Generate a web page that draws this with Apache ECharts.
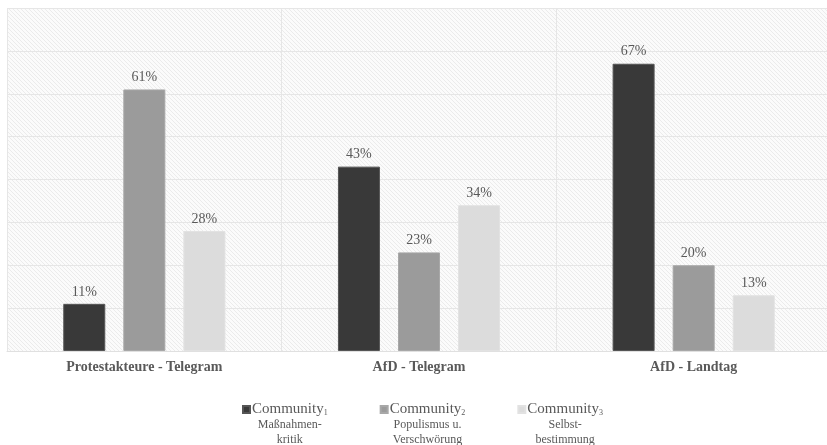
<!DOCTYPE html>
<html>
<head>
<meta charset="utf-8">
<script src="https://cdn.jsdelivr.net/npm/echarts@6/dist/echarts.min.js"></script>
<style>html,body{margin:0;padding:0;background:#fff}#c{width:827px;height:445px}</style>
</head>
<body>
<div id="c"></div>
<script>
const categories = ['Protestakteure - Telegram', 'AfD - Telegram', 'AfD - Landtag'];
const seriesNames = ['Community1', 'Community2', 'Community3'];
const seriesSub = ['1', '2', '3'];
const seriesDesc = [['Maßnahmen-', 'kritik'], ['Populismus u.', 'Verschwörung'], ['Selbst-', 'bestimmung']];
const community1 = [11, 43, 67];
const community2 = [61, 23, 20];
const community3 = [28, 34, 13];
const yTicks = [0, 10, 20, 30, 40, 50, 60, 70, 80];

const colors = ['#393939', '#9b9b9b', '#dcdcdc'];
const serif = '"Liberation Serif", "Times New Roman", serif';

// hatch pattern
const pc = document.createElement('canvas');
pc.width = 4; pc.height = 4;
const px = pc.getContext('2d');
px.fillStyle = '#fbfbfb'; px.fillRect(0, 0, 4, 4);
px.fillStyle = '#ebebeb';
for (let i = 0; i < 4; i++) px.fillRect(i, i, 1, 1);

const chart = echarts.init(document.getElementById('c'), null, {renderer: 'canvas'});
const data = [community1, community2, community3];
const series = data.map((d, i) => ({
  name: seriesNames[i],
  type: 'bar',
  data: d,
  barWidth: 42,
  barGap: '43%',
  itemStyle: {color: colors[i], borderColor: i === 0 ? '#555' : (i === 1 ? '#a8a8a8' : '#e2e2e2'), borderWidth: 1},
  label: {
    show: true, position: 'top', distance: 5,
    formatter: '{c}%',
    fontFamily: serif, fontSize: 14, color: '#595959'
  }
}));

chart.setOption({
  animation: false,
  grid: {
    show: true, left: 7, top: 8, width: 824, bottom: 94,
    outerBoundsMode: 'none', containLabel: false,
    backgroundColor: {image: pc, repeat: 'repeat'},
    borderWidth: 0
  },
  xAxis: {
    type: 'category', data: categories,
    axisLine: {show: true, lineStyle: {color: '#e0e0e0', width: 1}},
    axisTick: {show: false},
    splitLine: {show: true, lineStyle: {color: '#e6e6e6', width: 1}},
    axisLabel: {margin: 9, fontFamily: serif, fontSize: 14, fontWeight: 'bold', color: '#595959'}
  },
  yAxis: {
    type: 'value', min: yTicks[0], max: yTicks[yTicks.length - 1], interval: 10,
    axisLine: {show: false}, axisTick: {show: false}, axisLabel: {show: false},
    splitLine: {show: true, lineStyle: {color: '#e6e6e6', width: 1}}
  },
  legend: {
    left: 242, top: 402, padding: 0,
    itemWidth: 7, itemHeight: 7, itemGap: 52,
    icon: 'rect',
    data: seriesNames,
    formatter: function (name) {
      const i = seriesNames.indexOf(name);
      return '{m|Community}{s|' + seriesSub[i] + '}\n{d|' + seriesDesc[i][0] + '}\n{d|' + seriesDesc[i][1] + '}';
    },
    textStyle: {
      padding: [31, 0, 0, -3],
      fontFamily: serif, color: '#595959',
      rich: {
        m: {fontFamily: serif, fontSize: 15, color: '#595959', align: 'center', lineHeight: 15},
        s: {fontFamily: serif, fontSize: 8, color: '#595959', align: 'center', lineHeight: 15, verticalAlign: 'bottom', padding: [6, 0, 0, 0]},
        d: {fontFamily: serif, fontSize: 12, color: '#595959', align: 'center', lineHeight: 15.5}
      }
    }
  },
  series: series
});
</script>
</body>
</html>
